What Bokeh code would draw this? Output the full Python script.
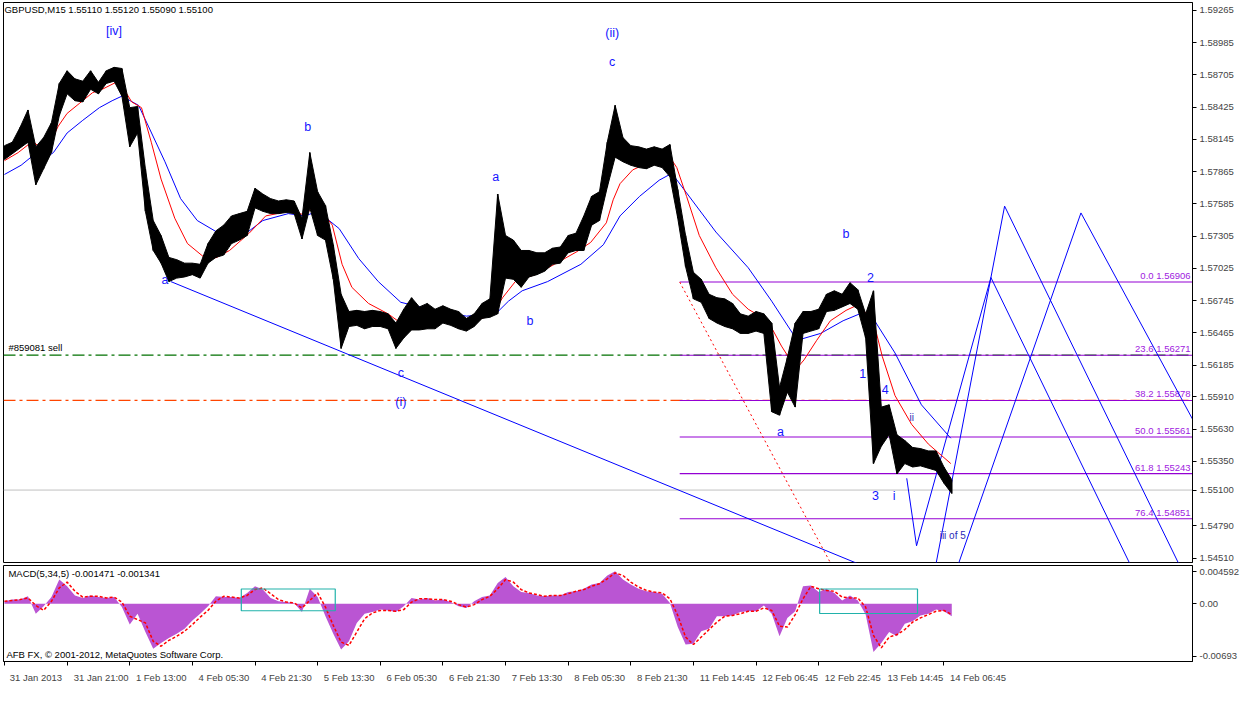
from bokeh.plotting import figure
from bokeh.layouts import column
from bokeh.models import (Range1d, FixedTicker, LinearAxis, ColumnDataSource,
                          CustomJSTickFormatter, PrintfTickFormatter)
from bokeh.embed import file_html
from bokeh.resources import INLINE
from bokeh.core.properties import value

FONT = "Liberation Sans"

# ---------------- data ----------------
bars = list(range(0, 969, 8))  # sampled M15 bar index
price_hi = [1.5809,1.5812,1.5825,1.5840,1.5808,1.5816,1.5829,1.5863,1.5874,1.5867,
            1.5865,1.5874,1.5864,1.5874,1.5877,1.5876,1.5842,1.5843,1.5789,1.5744,
            1.5731,1.5712,1.5710,1.5707,1.5707,1.5706,1.5724,1.5735,1.5740,1.5748,
            1.5750,1.5752,1.5772,1.5767,1.5763,1.5761,1.5762,1.5761,1.5746,1.5803,
            1.5769,1.5757,1.5723,1.5680,1.5665,1.5666,1.5665,1.5666,1.5665,1.5663,
            1.5655,1.5667,1.5677,1.5669,1.5672,1.5667,1.5670,1.5667,1.5665,1.5659,
            1.5663,1.5672,1.5676,1.5767,1.5731,1.5727,1.5718,1.5718,1.5716,1.5716,
            1.5720,1.5721,1.5731,1.5733,1.5748,1.5765,1.5769,1.5812,1.5844,1.5816,
            1.5809,1.5808,1.5806,1.5808,1.5806,1.5810,1.5771,1.5731,1.5699,1.5693,
            1.5680,1.5677,1.5676,1.5672,1.5663,1.5661,1.5665,1.5663,1.5655,1.5599,
            1.5625,1.5655,1.5665,1.5665,1.5667,1.5680,1.5683,1.5680,1.5690,1.5684,
            1.5663,1.5683,1.5582,1.5584,1.5558,1.5553,1.5547,1.5546,1.5544,1.5544,
            1.5530,1.5519]
price_lo = [1.5797,1.5802,1.5807,1.5812,1.5775,1.5789,1.5803,1.5835,1.5854,1.5848,
            1.5847,1.5858,1.5854,1.5863,1.5865,1.5852,1.5808,1.5820,1.5752,1.5718,
            1.5707,1.5691,1.5694,1.5695,1.5697,1.5694,1.5707,1.5712,1.5714,1.5724,
            1.5727,1.5731,1.5755,1.5752,1.5750,1.5750,1.5751,1.5750,1.5728,1.5755,
            1.5731,1.5727,1.5693,1.5633,1.5652,1.5653,1.5650,1.5652,1.5652,1.5650,
            1.5633,1.5642,1.5649,1.5649,1.5650,1.5650,1.5655,1.5653,1.5650,1.5648,
            1.5652,1.5659,1.5660,1.5663,1.5694,1.5693,1.5686,1.5695,1.5697,1.5700,
            1.5706,1.5707,1.5716,1.5718,1.5718,1.5740,1.5744,1.5773,1.5799,1.5795,
            1.5792,1.5790,1.5789,1.5792,1.5790,1.5782,1.5746,1.5704,1.5676,1.5673,
            1.5659,1.5655,1.5652,1.5650,1.5646,1.5646,1.5648,1.5646,1.5578,1.5575,
            1.5595,1.5582,1.5646,1.5648,1.5650,1.5665,1.5666,1.5669,1.5672,1.5667,
            1.5642,1.5533,1.5548,1.5558,1.5524,1.5533,1.5530,1.5531,1.5529,1.5527,
            1.5516,1.5507]

red_ma_bars = [0,14,29,39,47,55,64,77,90,100,114,120,130,140,150,160,174,187,207,217,
               230,250,267,290,307,319,335,345,355,372,392,405,422,442,462,479,499,509,522,542,
               562,585,599,615,622,629,642,655,669,680,687,697,710,727,744,760,780,794,809,817,
               830,844,860,870,887,897,910,927,944,967]
red_ma = [1.5796,1.5803,1.5813,1.5805,1.5812,1.5826,1.5837,1.5846,1.5855,1.5858,
          1.5864,1.5861,1.5847,1.5842,1.5812,1.5780,1.5746,1.5724,1.5710,1.5712,
          1.5718,1.5733,1.5748,1.5752,1.5749,1.5758,1.5740,1.5706,1.5686,1.5672,
          1.5663,1.5655,1.5659,1.5657,1.5660,1.5656,1.5663,1.5677,1.5691,1.5697,
          1.5706,1.5717,1.5725,1.5742,1.5762,1.5776,1.5788,1.5793,1.5797,1.5799,
          1.5790,1.5765,1.5731,1.5703,1.5680,1.5667,1.5657,1.5635,1.5615,1.5623,
          1.5640,1.5657,1.5666,1.5670,1.5660,1.5626,1.5592,1.5567,1.5550,1.5533]
blue_ma_bars = [0,17,30,40,50,64,80,97,110,120,137,147,164,180,197,217,247,264,290,307,
                320,342,362,382,405,439,472,502,515,529,555,589,612,629,649,669,682,697,727,760,
                784,810,834,857,874,887,910,937,967]
blue_ma = [1.5784,1.5792,1.5801,1.5797,1.5803,1.5820,1.5831,1.5842,1.5848,1.5852,
           1.5844,1.5826,1.5795,1.5763,1.5744,1.5734,1.5733,1.5744,1.5750,1.5748,
           1.5752,1.5737,1.5711,1.5691,1.5673,1.5666,1.5661,1.5663,1.5674,1.5683,
           1.5691,1.5706,1.5723,1.5748,1.5765,1.5779,1.5785,1.5768,1.5734,1.5703,
           1.5674,1.5640,1.5646,1.5657,1.5663,1.5660,1.5629,1.5584,1.5555]

macd_hist = [0.0003,0.0005,0.0005,0.0009,-0.0012,-0.0003,0.0008,0.0029,0.0021,0.0010,
             0.0007,0.0010,0.0008,0.0007,0.0008,-0.0004,-0.0025,-0.0012,-0.0034,-0.0054,
             -0.0047,-0.0041,-0.0036,-0.0030,-0.0020,-0.0012,-0.0003,0.0009,0.0008,0.0008,
             0.0007,0.0013,0.0021,0.0017,0.0007,0.0003,0.0002,0.0001,-0.0010,0.0018,
             0.0008,-0.0015,-0.0036,-0.0055,-0.0045,-0.0023,-0.0012,-0.0010,-0.0007,-0.0008,
             -0.0010,-0.0003,0.0007,0.0005,0.0007,0.0004,0.0005,0.0002,-0.0003,-0.0005,
             0.0003,0.0008,0.0010,0.0025,0.0032,0.0021,0.0014,0.0013,0.0010,0.0009,
             0.0010,0.0010,0.0014,0.0015,0.0018,0.0023,0.0025,0.0034,0.0039,0.0029,
             0.0023,0.0018,0.0015,0.0014,0.0012,0.0001,-0.0028,-0.0049,-0.0048,-0.0033,
             -0.0030,-0.0015,-0.0015,-0.0014,-0.0010,-0.0009,-0.0009,-0.0002,-0.0012,-0.0039,
             -0.0017,-0.0009,0.0021,0.0022,0.0014,0.0018,0.0013,0.0004,0.0010,0.0004,
             -0.0013,-0.0058,-0.0047,-0.0034,-0.0039,-0.0024,-0.0021,-0.0014,-0.0012,-0.0007,
             -0.0009,-0.0015]
macd_signal = [0.0003,0.0004,0.0005,0.0007,-0.0002,-0.0008,0.0003,0.0019,0.0026,0.0015,
               0.0008,0.0009,0.0009,0.0007,0.0008,0.0002,-0.0015,-0.0019,-0.0023,-0.0045,
               -0.0051,-0.0044,-0.0039,-0.0033,-0.0025,-0.0016,-0.0008,0.0003,0.0009,0.0008,
               0.0007,0.0010,0.0017,0.0019,0.0012,0.0005,0.0002,0.0001,-0.0005,0.0004,
               0.0013,-0.0004,-0.0026,-0.0046,-0.0050,-0.0034,-0.0018,-0.0011,-0.0008,-0.0008,
               -0.0009,-0.0007,0.0002,0.0006,0.0006,0.0005,0.0005,0.0003,-0.0001,-0.0004,
               -0.0001,0.0005,0.0009,0.0018,0.0029,0.0026,0.0017,0.0013,0.0011,0.0009,
               0.0010,0.0010,0.0012,0.0015,0.0017,0.0021,0.0024,0.0030,0.0037,0.0034,
               0.0026,0.0020,0.0016,0.0014,0.0013,0.0006,-0.0014,-0.0040,-0.0049,-0.0040,
               -0.0031,-0.0022,-0.0015,-0.0014,-0.0012,-0.0009,-0.0009,-0.0005,-0.0008,-0.0027,
               -0.0028,-0.0013,0.0006,0.0021,0.0018,0.0016,0.0015,0.0008,0.0007,0.0007,
               -0.0004,-0.0038,-0.0053,-0.0040,-0.0037,-0.0031,-0.0022,-0.0017,-0.0013,-0.0009,
               -0.0008,-0.0013]

x_tick_labels = ["31 Jan 2013", "31 Jan 21:00", "1 Feb 13:00", "4 Feb 05:30", "4 Feb 21:30",
                 "5 Feb 13:30", "6 Feb 05:30", "6 Feb 21:30", "7 Feb 13:30", "8 Feb 05:30",
                 "8 Feb 21:30", "11 Feb 14:45", "12 Feb 06:45", "12 Feb 22:45", "13 Feb 14:45",
                 "14 Feb 06:45"]
x_tick_bars = [0, 64, 128, 192, 256, 320, 384, 448, 512, 576, 640, 704, 768, 832, 896, 960]
price_ticks = [1.59265, 1.58985, 1.58705, 1.58425, 1.58145, 1.57865, 1.57585, 1.57305,
               1.57025, 1.56745, 1.56465, 1.56185, 1.55910, 1.55630, 1.55350, 1.55100,
               1.54790, 1.54510]

fib_levels = ["0.0", "23.6", "38.2", "50.0", "61.8", "76.4"]
fib_prices = [1.56906, 1.56271, 1.55878, 1.55561, 1.55243, 1.54851]
fib_start_bar = 690
fib_base = [690, 1.56906, 860, 1.54215]   # dotted red fib base line (bar, price, bar, price)

sell_price = 1.56271
stop_price = 1.55878
bid_price = 1.55100

trend_line = [170, 1.5691, 880, 1.54433]
proj_x0 = [922, 932, 1008, 952, 1022, 975, 1100]
proj_y0 = [1.55202, 1.54616, 1.56945, 1.54463, 1.57565, 1.54463, 1.57506]
proj_x1 = [932, 1008, 1162, 1022, 1212, 1100, 1237]
proj_y1 = [1.54616, 1.56945, 1.5425, 1.57565, 1.5425, 1.57506, 1.55355]

wave_text = ["[iv]", "(ii)", "c", "b", "a", "c", "(i)", "a", "b", "b", "2", "1", "4", "a", "3", "i"]
wave_x = [112, 621, 621, 310, 164, 405, 405, 502, 537, 860, 885, 877, 900, 793, 890, 909]
wave_y = [1.59087, 1.5907, 1.58815, 1.58254, 1.56928, 1.56112, 1.55865, 1.5782, 1.5657,
          1.57327, 1.56945, 1.56112, 1.55976, 1.55602, 1.55049, 1.55049]
small_text = ["ii", "iii of 5"]
small_x = [927, 969]
small_y = [1.55729, 1.54709]

box_left = [242, 833]
box_right = [338, 933]
box_top = [0.00177, 0.00177]
box_bottom = [-0.00084, -0.00117]

# ---------------- main price panel ----------------
XR = Range1d(-1, 1214)
W = 1242
p = figure(width=W, height=564, x_range=XR, y_range=Range1d(1.54471, 1.59333),
           output_backend="svg", toolbar_location=None, y_axis_location="right",
           x_axis_location=None, min_border_left=3, min_border_right=46,
           min_border_top=2, min_border_bottom=2, background_fill_color="white",
           border_fill_color="white")
p.grid.visible = False
p.outline_line_color = "black"
p.outline_line_width = 1

ax = p.yaxis[0]
ax.ticker = FixedTicker(ticks=price_ticks)
ax.formatter = PrintfTickFormatter(format="%.5f")
ax.minor_tick_line_color = None
ax.major_tick_in = 0
ax.major_tick_out = 4
ax.axis_line_color = "black"
ax.major_label_text_font = FONT
ax.major_label_text_font_size = "9.5px"
ax.major_label_standoff = 3

# horizontal order / bid lines
p.segment(x0=[-1], y0=[sell_price], x1=[1214], y1=[sell_price], line_color="#007000",
          line_width=1.3, line_dash="12 4 3 4")
p.segment(x0=[-1], y0=[stop_price], x1=[1214], y1=[stop_price], line_color="#FF4500",
          line_width=1.2, line_dash="12 4 3 4")
p.segment(x0=[-1], y0=[bid_price], x1=[1214], y1=[bid_price], line_color="#C0C0C0", line_width=1)

# fibonacci
p.segment(x0=[fib_start_bar] * len(fib_prices), y0=fib_prices, x1=[1214] * len(fib_prices),
          y1=fib_prices, line_color="#9400D3", line_width=1.1)
p.text(x=[1212] * len(fib_prices), y=fib_prices,
       text=[f"{a} {b:.5f}" for a, b in zip(fib_levels, fib_prices)],
       text_font=value(FONT), text_font_size="9.5px", text_color="#A020E0",
       text_align="right", text_baseline="bottom", y_offset=-1)
p.segment(x0=[fib_base[0]], y0=[fib_base[1]], x1=[fib_base[2]], y1=[fib_base[3]],
          line_color="red", line_width=1, line_dash="2 3")

# trend / projection lines
p.segment(x0=[trend_line[0]], y0=[trend_line[1]], x1=[trend_line[2]], y1=[trend_line[3]],
          line_color="#0000FF", line_width=1)
p.segment(x0=proj_x0, y0=proj_y0, x1=proj_x1, y1=proj_y1, line_color="#0000FF", line_width=1)

# moving averages
p.line(blue_ma_bars, blue_ma, line_color="#0000FF", line_width=1)
p.line(red_ma_bars, red_ma, line_color="#FF0000", line_width=1)

# price bars (high/low envelope per sample)
src = ColumnDataSource(dict(x=bars, hi=price_hi, lo=price_lo))
p.varea(x="x", y1="lo", y2="hi", source=src, fill_color="black")
p.segment(x0="x", y0="lo", x1="x", y1="hi", source=src, line_color="black", line_width=1.5)
p.line("x", "hi", source=src, line_color="black", line_width=1)
p.line("x", "lo", source=src, line_color="black", line_width=1)

# wave labels
p.text(x=wave_x, y=wave_y, text=wave_text, text_font=value(FONT), text_font_size="12.5px",
       text_color="#1515FF", text_align="center", text_baseline="middle")
p.text(x=small_x, y=small_y, text=small_text, text_font=value(FONT), text_font_size="10px",
       text_color="#2B2BB8", text_align="center", text_baseline="middle")

p.text(x=[0], y=[1.5932], text=["GBPUSD,M15  1.55110 1.55120 1.55090 1.55100"],
       text_font=value(FONT), text_font_size="9.5px", text_color="black",
       text_align="left", text_baseline="top")
p.text(x=[4], y=[1.5629], text=["#859081 sell"], text_font=value(FONT),
       text_font_size="9.5px", text_color="black", text_align="left", text_baseline="bottom")

# ---------------- MACD panel ----------------
m = figure(width=W, height=121, x_range=XR, y_range=Range1d(-0.006931, 0.004592),
           output_backend="svg", toolbar_location=None, y_axis_location="right",
           min_border_left=3, min_border_right=46, min_border_top=1, min_border_bottom=0,
           background_fill_color="white", border_fill_color="white")
m.grid.visible = False
m.outline_line_color = "black"
m.outline_line_width = 1

msrc = ColumnDataSource(dict(x=bars, h=macd_hist, s=macd_signal))
m.varea(x="x", y1=0, y2="h", source=msrc, fill_color="#BA55D3")
m.line("x", "s", source=msrc, line_color="red", line_width=1.5, line_dash="3 2")
m.quad(left=box_left, right=box_right, top=box_top, bottom=box_bottom,
       fill_color=None, line_color="#20B2AA", line_width=1.2)

m.text(x=[4], y=[0.00425], text=["MACD(5,34,5) -0.001471 -0.001341"], text_font=value(FONT),
       text_font_size="9.5px", text_color="black", text_align="left", text_baseline="top")
m.text(x=[2], y=[-0.00606], text=["AFB FX, \u00a9 2001-2012, MetaQuotes Software Corp."],
       text_font=value(FONT), text_font_size="9.5px", text_color="black",
       text_align="left", text_baseline="middle")

may = m.yaxis[0]
may.ticker = FixedTicker(ticks=[0.00383, 0.0, -0.00628])
may.formatter = CustomJSTickFormatter(code="""
if (tick > 0.002) { return "0.004592"; }
if (tick < -0.002) { return "-0.00693"; }
return "0.00";
""")
may.minor_tick_line_color = None
may.major_tick_in = 0
may.major_tick_out = 4
may.axis_line_color = "black"
may.major_label_text_font = FONT
may.major_label_text_font_size = "9.5px"
may.major_label_standoff = 3

# tick marks (no labels)
mx = m.xaxis[0]
mx.ticker = FixedTicker(ticks=x_tick_bars)
mx.formatter = CustomJSTickFormatter(code="return '';")
mx.minor_tick_line_color = None
mx.major_tick_in = 0
mx.major_tick_out = 4
mx.axis_line_color = "black"
mx.major_label_text_font_size = "1px"
mx.major_label_standoff = 0

# labels written to the right of each tick (MetaTrader style)
bars_per_px = 1215.0 / 1193.0
label_pos = [b + (3 + 2.6 * len(t)) * bars_per_px for b, t in zip(x_tick_bars, x_tick_labels)]
lx = LinearAxis(ticker=FixedTicker(ticks=label_pos),
                formatter=CustomJSTickFormatter(args=dict(labels=x_tick_labels, pos=label_pos),
                                                code="""
let best = 0;
for (let i = 0; i < pos.length; i++) {
  if (Math.abs(pos[i] - tick) < Math.abs(pos[best] - tick)) { best = i; }
}
return labels[best];
"""))
lx.major_tick_line_color = None
lx.minor_tick_line_color = None
lx.axis_line_color = None
lx.major_label_text_font = FONT
lx.major_label_text_font_size = "9.5px"
lx.major_label_standoff = 0
m.add_layout(lx, "below")

layout = column(p, m, spacing=0)
open("out.html", "w").write(file_html(layout, INLINE))
